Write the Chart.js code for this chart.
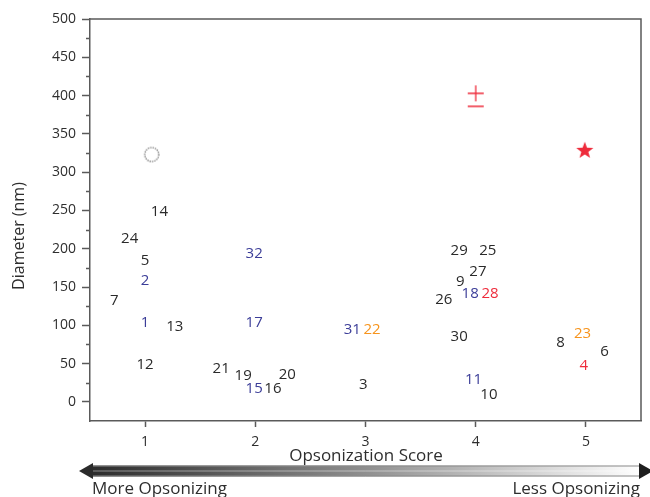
<!DOCTYPE html>
<html>
<head>
<meta charset="utf-8">
<script src="https://cdn.jsdelivr.net/npm/chart.js@4/dist/chart.umd.min.js"></script>
<style>
  html, body { margin: 0; padding: 0; background: #fff; }
  #wrap { width: 650px; height: 497px; }
</style>
</head>
<body>
<div id="wrap"><canvas id="chart" width="650" height="497"></canvas></div>
<script>
// particle numbers, their opsonization score (x, jittered) and diameter in nm
const particleIds = [14, 24, 5, 2, 7, 1, 13, 12, 32, 17, 21, 19, 15, 16, 20, 31, 22, 3, 29, 25, 27, 9, 18, 28, 26, 30, 11, 10, 8, 23, 6, 4];
const scores = [1.13, 0.86, 1.00, 1.00, 0.72, 1.00, 1.27, 1.00, 1.99, 1.99, 1.69, 1.89, 1.99, 2.16, 2.29, 2.88, 3.06, 2.98, 3.85, 4.11, 4.02, 3.86, 3.95, 4.13, 3.71, 3.85, 3.98, 4.12, 4.77, 4.97, 5.17, 4.98];
const diameters = [250, 214, 186, 160, 134, 104, 99, 50, 195, 104, 45, 35, 18, 18, 37, 95, 95, 24, 199, 199, 171, 158, 142, 142, 135, 87, 30, 11, 79, 90, 67, 48];
const groups = ["k", "k", "k", "b", "k", "b", "k", "k", "b", "b", "k", "k", "b", "k", "k", "b", "o", "k", "k", "k", "k", "k", "b", "r", "k", "k", "b", "k", "k", "o", "k", "r"];

// the three symbol markers
const markerNames = ["circle", "plusminus", "star"];
const markerScores = [1.06, 4.00, 4.99];
const markerDiameters = [323, 399, 329];

const scoreTicks = [1, 2, 3, 4, 5];
const diameterTicks = [0, 50, 100, 150, 200, 250, 300, 350, 400, 450, 500];

const GROUP_COLORS = { k: "#2a2a2a", b: "#3b3d98", o: "#f7941d", r: "#ee2b3b" };
const AXIS_COLOR = "#5a5a5a";
const TEXT_COLOR = "#2e2e2e";
const FONT = "'Open Sans', 'Noto Sans', sans-serif";

function makeCircle() {
  const c = document.createElement("canvas");
  c.width = 18; c.height = 18;
  const g = c.getContext("2d");
  g.strokeStyle = "#555555";
  g.lineWidth = 1.2;
  g.setLineDash([1.2, 1.2]);
  g.beginPath();
  g.arc(9, 9, 7, 0, Math.PI * 2);
  g.stroke();
  return c;
}

function makePlusMinus() {
  const c = document.createElement("canvas");
  c.width = 18; c.height = 26;
  const g = c.getContext("2d");
  g.strokeStyle = "#ee2b3b";
  g.lineWidth = 1.3;
  g.beginPath();
  g.moveTo(1, 10); g.lineTo(17, 10);
  g.moveTo(9, 2); g.lineTo(9, 18);
  g.moveTo(1, 23); g.lineTo(17, 23);
  g.stroke();
  return c;
}

function makeStar() {
  const c = document.createElement("canvas");
  c.width = 20; c.height = 20;
  const g = c.getContext("2d");
  g.fillStyle = "#ee2b3b";
  g.beginPath();
  for (let i = 0; i < 10; i++) {
    const r = i % 2 === 0 ? 9 : 3.7;
    const a = -Math.PI / 2 + i * Math.PI / 5;
    const px = 10 + r * Math.cos(a);
    const py = 10.8 + r * Math.sin(a);
    if (i === 0) g.moveTo(px, py); else g.lineTo(px, py);
  }
  g.closePath();
  g.fill();
  return c;
}

const markerStyles = { circle: makeCircle(), plusminus: makePlusMinus(), star: makeStar() };

// numbers drawn as text at each point position
const numberLabels = {
  id: "numberLabels",
  afterDatasetsDraw(chart) {
    const ctx = chart.ctx;
    const meta = chart.getDatasetMeta(0);
    ctx.save();
    ctx.font = "15px " + FONT;
    ctx.textAlign = "center";
    ctx.textBaseline = "middle";
    meta.data.forEach((pt, i) => {
      ctx.fillStyle = GROUP_COLORS[groups[i]];
      ctx.fillText(String(particleIds[i]), pt.x, pt.y + 1);
    });
    ctx.restore();
  }
};

// box frame, minor ticks, axis titles and the gradient arrow
const decorations = {
  id: "decorations",
  afterDraw(chart) {
    const ctx = chart.ctx;
    const area = chart.chartArea;
    const yScale = chart.scales.y;
    ctx.save();
    ctx.strokeStyle = AXIS_COLOR;
    ctx.lineWidth = 1.5;
    ctx.beginPath();
    ctx.moveTo(area.left, area.top);
    ctx.lineTo(area.right, area.top);
    ctx.lineTo(area.right, area.bottom);
    ctx.stroke();

    // minor ticks half way between labelled ones
    ctx.beginPath();
    diameterTicks.forEach((v) => {
      if (v >= 500) return;
      const py = Math.round(yScale.getPixelForValue(v + 25)) + 0.5;
      ctx.moveTo(area.left - 4, py);
      ctx.lineTo(area.left, py);
    });
    ctx.stroke();

    ctx.fillStyle = TEXT_COLOR;
    ctx.textAlign = "center";
    ctx.textBaseline = "middle";
    ctx.font = "17px " + FONT;
    ctx.fillText("Opsonization Score", 366, 456);

    ctx.save();
    ctx.translate(19, 236);
    ctx.rotate(-Math.PI / 2);
    ctx.font = "16px " + FONT;
    ctx.fillText("Diameter (nm)", 0, 0);
    ctx.restore();

    // gradient arrow
    const x0 = 90, x1 = 641, yc = 471, h = 11;
    const grad = ctx.createLinearGradient(x0, 0, x1, 0);
    grad.addColorStop(0, "#2b2b2b");
    grad.addColorStop(0.5, "#8f8f8f");
    grad.addColorStop(1, "#ffffff");
    ctx.fillStyle = grad;
    ctx.fillRect(x0, yc - h / 2, x1 - x0, h);
    ctx.strokeStyle = "#8a8a8a";
    ctx.lineWidth = 1;
    ctx.beginPath();
    ctx.moveTo(x0, yc - h / 2 + 0.5); ctx.lineTo(x1, yc - h / 2 + 0.5);
    ctx.moveTo(x0, yc + h / 2 - 0.5); ctx.lineTo(x1, yc + h / 2 - 0.5);
    ctx.stroke();
    ctx.strokeStyle = "rgba(255,255,255,0.45)";
    ctx.beginPath();
    ctx.moveTo(x0, yc); ctx.lineTo(x1, yc);
    ctx.stroke();

    ctx.fillStyle = "#2b2b2b";
    ctx.beginPath();
    ctx.moveTo(79, yc);
    ctx.lineTo(93, yc - 8);
    ctx.lineTo(93, yc + 8);
    ctx.closePath();
    ctx.fill();
    ctx.fillStyle = "#1e1e1e";
    ctx.beginPath();
    ctx.moveTo(653, yc);
    ctx.lineTo(639, yc - 8);
    ctx.lineTo(639, yc + 8);
    ctx.closePath();
    ctx.fill();

    ctx.fillStyle = TEXT_COLOR;
    ctx.font = "17px " + FONT;
    ctx.textBaseline = "alphabetic";
    ctx.textAlign = "left";
    ctx.fillText("More Opsonizing", 92, 494);
    ctx.textAlign = "right";
    ctx.fillText("Less Opsonizing", 640, 494);
    ctx.restore();
  }
};

function main() {
  const ctx = document.getElementById("chart").getContext("2d");

  const points = particleIds.map((id, i) => ({ x: scores[i], y: diameters[i] }));
  const markers = markerNames.map((n, i) => ({ x: markerScores[i], y: markerDiameters[i] }));

  new Chart(ctx, {
    type: "scatter",
    data: {
      datasets: [
        {
          label: "particles",
          data: points,
          pointRadius: 0,
          pointHoverRadius: 0
        },
        {
          label: "markers",
          data: markers,
          pointStyle: markerNames.map((n) => markerStyles[n]),
          pointRadius: 8
        }
      ]
    },
    options: {
      responsive: false,
      animation: false,
      devicePixelRatio: 1,
      layout: {
        padding: { top: 19, right: 6, left: 0, bottom: 0 }
      },
      scales: {
        x: {
          type: "linear",
          min: 0.5,
          max: 5.5,
          afterBuildTicks: (scale) => {
            scale.ticks = scoreTicks.map((v) => ({ value: v }));
          },
          afterFit: (scale) => {
            scale.height = 76;
          },
          grid: {
            drawOnChartArea: false,
            tickLength: 6,
            tickColor: AXIS_COLOR,
            tickWidth: 1.5
          },
          border: { display: true, color: AXIS_COLOR, width: 1.5 },
          ticks: {
            color: TEXT_COLOR,
            font: { family: FONT, size: 14 },
            padding: 7,
            callback: (v) => String(v)
          }
        },
        y: {
          type: "linear",
          min: -25,
          max: 500,
          afterBuildTicks: (scale) => {
            scale.ticks = diameterTicks.map((v) => ({ value: v }));
          },
          afterFit: (scale) => {
            scale.width = 90;
          },
          grid: {
            drawOnChartArea: false,
            tickLength: 8,
            tickColor: AXIS_COLOR,
            tickWidth: 1.5
          },
          border: { display: true, color: AXIS_COLOR, width: 1.5 },
          ticks: {
            color: TEXT_COLOR,
            font: { family: FONT, size: 14 },
            padding: 6,
            callback: (v) => String(v)
          }
        }
      },
      plugins: {
        legend: { display: false },
        tooltip: { enabled: false },
        title: { display: false }
      }
    },
    plugins: [numberLabels, decorations]
  });
}

window.addEventListener("load", main);
</script>
</body>
</html>
